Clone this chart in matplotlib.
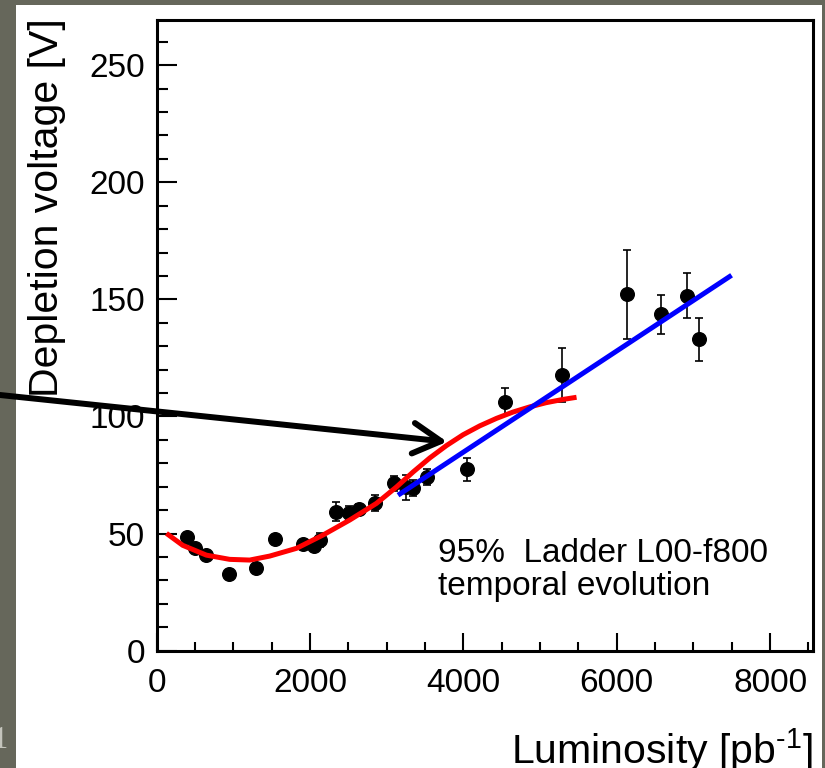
import matplotlib
matplotlib.use('Agg')
import matplotlib.pyplot as plt
from matplotlib.patches import Rectangle
from matplotlib.ticker import MultipleLocator

plt.rcParams['font.family'] = ['Liberation Sans', 'DejaVu Sans']
plt.rcParams['mathtext.fontset'] = 'custom'
plt.rcParams['mathtext.rm'] = 'Liberation Sans'

# measured depletion voltage vs integrated luminosity
lumi = [396, 496, 639, 939, 1301, 1544, 1909, 2052, 2135, 2344, 2505, 2640,
        2848, 3092, 3258, 3344, 3527, 4053, 4549, 5280, 6136, 6575, 6919, 7067]
vdep = [48.4, 43.7, 40.8, 32.7, 35.5, 47.5, 45.5, 44.6, 47.2, 59.3, 58.9, 60.6,
        63.1, 71.4, 69.7, 69.5, 74.2, 77.4, 106.3, 117.7, 152.1, 143.6, 151.5, 132.9]
verr = [1.5, 1.5, 1.5, 1.5, 1.5, 1.5, 1.5, 1.5, 3.0, 4.0, 3.0, 2.0,
        3.5, 3.2, 5.5, 3.5, 3.5, 5.0, 5.7, 11.6, 19.0, 8.4, 9.6, 9.2]

# full-range fit (red)
fit_x = [127, 339, 648, 952, 1213, 1474, 1823, 2170, 2518, 2866, 3127, 3344,
         3562, 3780, 3996, 4214, 4432, 4648, 4866, 5080, 5301, 5476]
fit_y = [50.1, 45.0, 40.8, 39.0, 38.7, 40.4, 43.7, 49.4, 55.8, 62.9, 69.9, 76.3,
         82.3, 87.6, 92.2, 96.0, 99.2, 101.9, 104.1, 105.9, 107.3, 108.2]

# linear fit above inversion (blue)
lin_x = [3148, 7498]
lin_y = [66.4, 160.3]

fig = plt.figure(figsize=(8.25, 7.68), dpi=100, facecolor='#66675b')
fig.patches.append(Rectangle((16 / 825, 0), (822 - 16) / 825, 763 / 768,
                             transform=fig.transFigure, facecolor='white',
                             edgecolor='none', zorder=-5))
fig.text(8 / 825, 20 / 768, '1', color='#c4c4bc', fontsize=22, ha='right',
         va='baseline', family='Liberation Serif')

ax = fig.add_axes([156.7 / 825, 117.3 / 768, (813 - 156.7) / 825, (650.7 - 19.5) / 768])
ax.set_xlim(0, 8560)
ax.set_ylim(0, 269.5)

ax.errorbar(lumi, vdep, yerr=verr, fmt='o', color='black', ms=9.8,
            elinewidth=1.2, capsize=3.2, capthick=1.2, zorder=3)
ax.plot(fit_x, fit_y, color='red', lw=3.6, solid_capstyle='butt', zorder=4)
ax.plot(lin_x, lin_y, color='blue', lw=3.6, solid_capstyle='butt', zorder=5)

ax.xaxis.set_major_locator(MultipleLocator(2000))
ax.xaxis.set_minor_locator(MultipleLocator(500))
ax.yaxis.set_major_locator(MultipleLocator(50))
ax.yaxis.set_minor_locator(MultipleLocator(10))
ax.tick_params(which='both', direction='in', top=False, right=False, width=1.5,
               labelsize=24)
ax.tick_params(axis='y', which='major', length=14.5, pad=8.4)
ax.tick_params(axis='y', which='minor', length=8)
ax.tick_params(axis='x', which='major', length=13, pad=12.5)
ax.tick_params(axis='x', which='minor', length=6.5)
for sp in ax.spines.values():
    sp.set_linewidth(2.2)

ax.text(3670, 37.9, '95%  Ladder L00-f800', fontsize=24, va='baseline')
ax.text(3670, 23.8, 'temporal evolution', fontsize=24, va='baseline')

fig.text(47 / 825, (768 - 18) / 768, 'Depletion voltage [V]', rotation=90,
         fontsize=29.5, ha='center', va='top')
fig.text(813 / 825, 4 / 768, r'Luminosity [pb$^{\text{-1}}$]',
         fontsize=29.5, ha='right', va='baseline')

ax.annotate('', xy=(3788, 89.2), xycoords='data',
            xytext=(0, (768 - 395) / 768), textcoords='figure fraction',
            annotation_clip=False,
            arrowprops=dict(arrowstyle='->,head_length=0.4,head_width=0.22',
                            mutation_scale=50, lw=4.3, color='black',
                            shrinkA=0, shrinkB=0))

fig.savefig('out.png', dpi=100, facecolor=fig.get_facecolor())
